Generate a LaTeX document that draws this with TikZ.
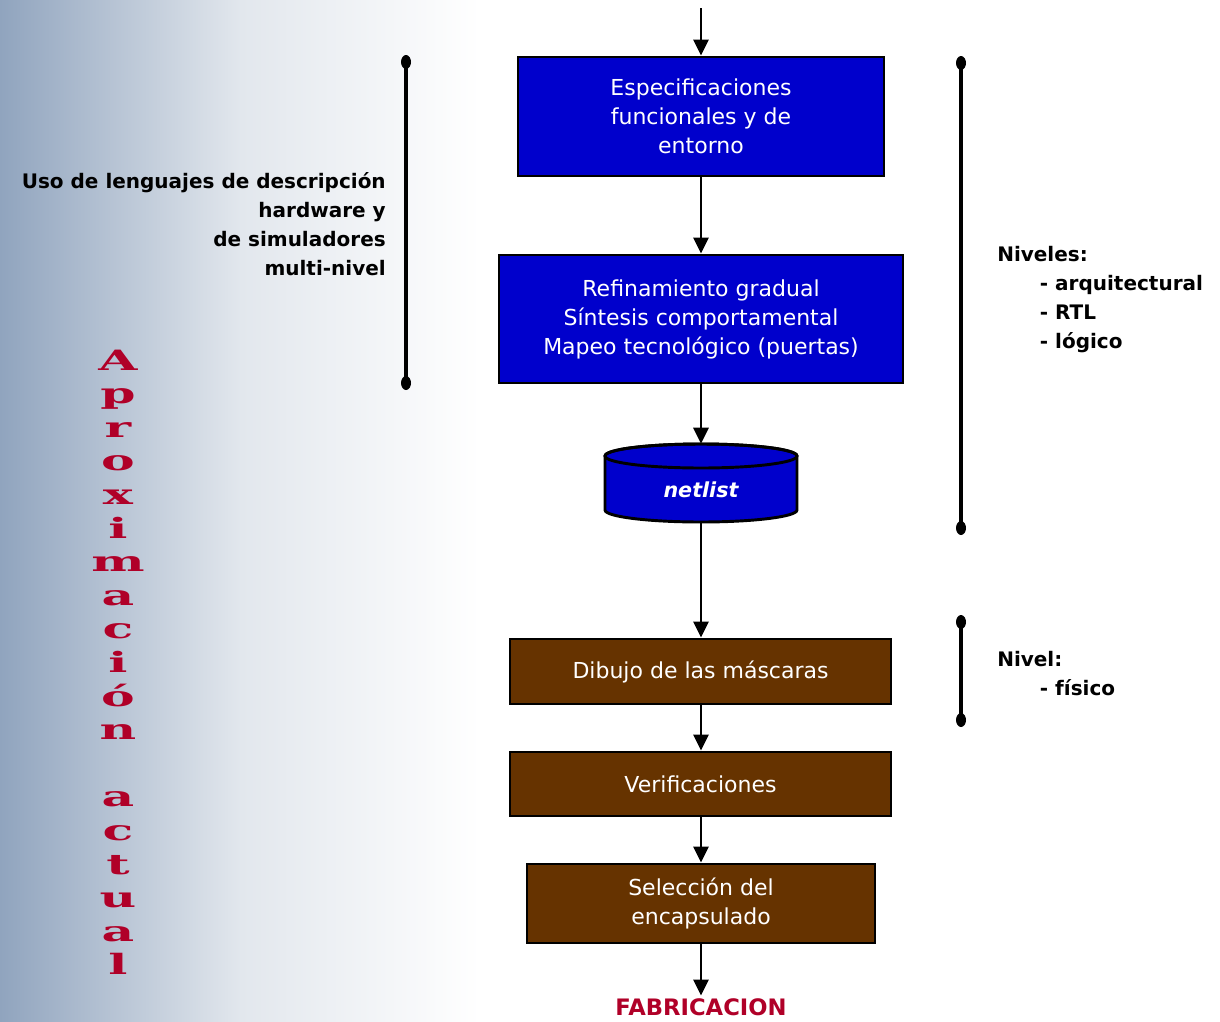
\documentclass[tikz,border=0pt]{standalone}
\usepackage{fontspec}
\setmainfont{DejaVu Sans}
\newfontfamily\titlefont{DejaVu Serif}
\usetikzlibrary{arrows.meta}
\definecolor{procblue}{HTML}{0000CC}
\definecolor{procbrown}{HTML}{663300}
\definecolor{titlered}{HTML}{B00028}
\definecolor{bgleft}{HTML}{90A4BE}
\definecolor{bgmid}{HTML}{E2E7ED}
\begin{document}
\begin{tikzpicture}[x=0.75pt,y=-0.75pt,
  stage/.style={draw=black,line width=2.2pt,text=white,align=center,inner sep=0pt,
    font=\fontsize{16.5}{21.75}\selectfont},
  bluebox/.style={stage,fill=procblue},
  brownbox/.style={stage,fill=procbrown},
  flow/.style={line width=1.5pt,-{Triangle[width=11.5pt,length=12pt]}},
  bracket/.style={line width=3pt},
  bracketend/.style={fill=black},
  note/.style={font=\bfseries\fontsize{15}{21.75}\selectfont,inner sep=0pt},
  titleletter/.style={font=\titlefont\bfseries\fontsize{21}{22}\selectfont,text=titlered,inner sep=0pt,anchor=base},
]
\useasboundingbox (0,0) rectangle (1220,1021);

% shaded band on the left
\fill[left color=bgleft,right color=bgmid] (0,0) rectangle (240.5,1021);
\fill[left color=bgmid,right color=white] (240,0) rectangle (480,1021);

% vertical title
\foreach \ch/\k in {A/0,p/1,r/2,o/3,x/4,i/5,m/6,a/7,c/8,i/9,ó/10,n/11,a/13,c/14,t/15,u/16,a/17,l/18}
  \node[titleletter] (ttl\k) at (118,{370+33.6*\k}) {\scalebox{1.8}[1]{\ch}};

% design flow
\coordinate (entry) at (701,8);
\node[bluebox,minimum width=274.5pt,minimum height=89.25pt] (spec) at (701,116.5)
  {Especificaciones\\funcionales y de\\entorno};
\node[bluebox,minimum width=303pt,minimum height=96pt] (refine) at (701,319)
  {Refinamiento gradual\\Síntesis comportamental\\Mapeo tecnológico (puertas)};
\node[minimum width=144pt,minimum height=58.5pt,inner sep=0pt] (net) at (701,483) {};
% database cylinder (the y axis points down, so arcs run the other way)
\fill[procblue,draw=black,line width=2.2pt]
  (605,456) -- (605,510) arc[start angle=180,end angle=0,x radius=96,y radius=12]
  -- (797,456) arc[start angle=0,end angle=-180,x radius=96,y radius=12] -- cycle;
\draw[line width=2.2pt] (701,456) ellipse[x radius=96,y radius=12];
\node[text=white,font=\bfseries\itshape\fontsize{15.5}{18}\selectfont] (netlbl) at (701,490) {netlist};
\node[brownbox,minimum width=285.75pt,minimum height=48.75pt] (masks) at (700.5,671.5)
  {Dibujo de las máscaras};
\node[brownbox,minimum width=285.75pt,minimum height=48pt] (verif) at (700.5,784)
  {Verificaciones};
\node[brownbox,minimum width=261pt,minimum height=59.25pt] (pkg) at (701,903.5)
  {Selección del\\encapsulado};
\node[text=titlered,font=\bfseries\fontsize{17}{20}\selectfont,inner sep=0pt] (fab) at (701,1007)
  {FABRICACION};

\draw[flow] (entry) -- (spec.north);
\draw[flow] (spec.south) -- (refine.north);
\draw[flow] (refine.south) -- (net.north);
\draw[flow] (net.south) -- (masks.north -| net.south);
\draw[flow] (masks.south -| net.south) -- (verif.north -| net.south);
\draw[flow] (verif.south -| net.south) -- (pkg.north);
\draw[flow] (pkg.south) -- ([yshift=2pt]fab.north);

% level brackets
\coordinate (lt) at (406,62);  \coordinate (lb) at (406,383);
\coordinate (rt) at (961,63);  \coordinate (rb) at (961,528);
\coordinate (pt) at (961,622); \coordinate (pb) at (961,720);
\foreach \a/\b in {lt/lb,rt/rb,pt/pb}{
  \draw[bracket] (\a) -- (\b);
  \fill[bracketend] (\a) ellipse[x radius=5,y radius=7];
  \fill[bracketend] (\b) ellipse[x radius=5,y radius=7];
}

% side notes
\node[note,align=right,anchor=east] (hdl) at (386,224)
  {Uso de lenguajes de descripción\\hardware y\\de simuladores\\multi-nivel};
\node[note,align=left,anchor=west] (levels) at (997,300)
  {Niveles:\\\hspace*{32pt}- arquitectural\\\hspace*{32pt}- RTL\\\hspace*{32pt}- lógico};
\node[note,align=left,anchor=west] (phys) at (997,673.5)
  {Nivel:\\\hspace*{32pt}- físico};
\end{tikzpicture}
\end{document}
